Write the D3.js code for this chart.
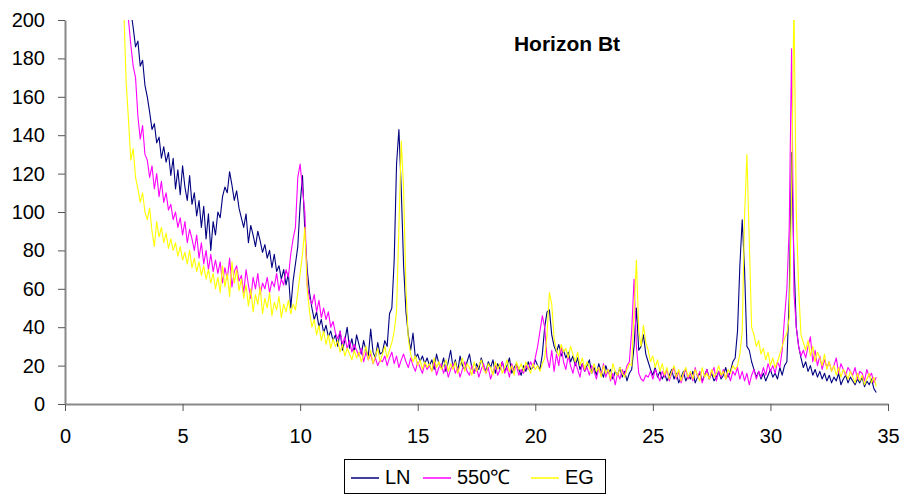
<!DOCTYPE html>
<html>
<head>
<meta charset="utf-8">
<script src="https://cdn.jsdelivr.net/npm/d3@7"></script>
<style>
  body { margin: 0; background: #fff; }
  svg { display: block; font-family: Arial, "Liberation Sans", sans-serif; }
</style>
</head>
<body>
<svg width="906" height="497"></svg>
<script>
// scan grid: 2theta from 2.5 to 34.5, step 0.1
const scanStart = 2.5, scanStep = 0.1, scanCount = 321;

// intensities, one row per degree
const seriesLN = [
  260, 240, 220, 205, 196, 186, 189, 176, 179, 166,
  160, 152, 143, 146, 136, 139, 128, 134, 126, 131,
  119, 128, 112, 122, 109, 124, 113, 106, 119, 104,
  110, 98, 106, 92, 103, 86, 99, 80, 95, 88,
  100, 97, 108, 113, 110, 121, 114, 106, 111, 102,
  97, 92, 99, 84, 93, 88, 82, 90, 85, 79,
  83, 76, 80, 71, 78, 69, 72, 65, 70, 62,
  68, 50, 64, 73, 82, 104, 119, 90, 70, 58,
  50, 44, 48, 40, 44, 37, 41, 35, 38, 33,
  36, 30, 38, 28, 33, 40, 29, 34, 27, 36,
  31, 26, 33, 28, 25, 39, 27, 24, 32, 26,
  27, 33, 30, 47, 50, 75, 125, 143, 112, 72,
  48, 36, 28, 37, 24, 26, 22, 25, 21, 24,
  20, 23, 18, 26, 21, 19, 24, 17, 22, 28,
  19, 23, 17, 25, 20, 18, 22, 26, 19, 16,
  21, 18, 24, 20, 17, 22, 19, 23, 16, 21,
  18, 22, 17, 20, 24, 16, 19, 21, 18, 15,
  20, 17, 22, 18, 19, 23, 20, 18, 26, 40,
  48, 49, 36, 30, 27, 31, 25, 28, 24, 27,
  22, 25, 20, 24, 18, 21, 17, 20, 23, 16,
  19, 15, 21, 17, 14, 20, 16, 18, 13, 17,
  15, 19, 14, 17, 12, 16, 18, 30, 50, 28,
  30, 36, 26, 22, 18, 15, 19, 14, 17, 13,
  16, 12, 15, 18, 13, 16, 11, 14, 17, 12,
  15, 13, 17, 11, 14, 16, 12, 15, 18, 13,
  16, 12, 14, 17, 13, 15, 19, 14, 17, 22,
  24, 38, 72, 96, 70, 30, 28, 22, 18, 14,
  17, 13, 16, 12, 15, 18, 14, 16, 13, 19,
  15, 20, 22, 55, 131, 75, 40, 30, 24, 19,
  22, 17, 20, 15, 18, 14, 17, 13, 16, 12,
  15, 11, 14, 12, 16, 10, 13, 15, 11, 14,
  12, 10, 13, 11, 14, 9, 12, 10, 13, 8,
  6
];

const series550 = [
  250, 225, 200, 187, 176, 170, 150, 138, 145, 130,
  127, 118, 124, 112, 120, 108, 116, 105, 110, 101,
  104, 96, 100, 92, 97, 88, 95, 84, 91, 86,
  80, 88, 76, 84, 73, 80, 70, 78, 69, 75,
  68, 74, 63, 71, 65, 76, 61, 69, 72, 64,
  67, 58, 70, 62, 55, 66, 60, 68, 57, 63,
  60, 66, 58, 64, 61, 68, 59, 65, 62, 70,
  66, 78, 86, 92, 118, 125, 112, 100, 62, 55,
  52, 57, 48, 54, 45, 50, 44, 48, 40, 43,
  37, 34, 38, 31, 35, 29, 33, 27, 31, 28,
  25, 29, 22, 27, 23, 26, 21, 24, 20, 23,
  22, 25, 20, 24, 27, 21, 25, 19, 23, 26,
  22, 19, 24, 20, 17, 22, 19, 16, 21, 18,
  20, 17, 22, 15, 19, 21, 16, 20, 14, 18,
  21, 16, 19, 14, 18, 22, 17, 15, 20, 16,
  19, 14, 18, 21, 16, 19, 13, 17, 20, 15,
  18, 22, 16, 19, 14, 21, 17, 20, 15, 18,
  16, 20, 18, 22, 19, 24, 30, 38, 46, 40,
  24, 19, 28, 17, 26, 20, 30, 22, 18, 25,
  20, 16, 22, 18, 14, 21, 17, 19, 15, 20,
  17, 13, 19, 15, 21, 14, 18, 12, 16, 10,
  16, 13, 18, 15, 20, 22, 38, 65, 30, 16,
  13, 12, 15, 14, 17, 13, 18, 15, 12, 17,
  14, 18, 12, 16, 19, 13, 17, 11, 15, 18,
  13, 16, 12, 19, 14, 17, 11, 15, 18, 13,
  16, 19, 12, 17, 14, 18, 13, 16, 12, 17,
  15, 19, 13, 17, 12, 16, 10, 15, 18, 13,
  17, 14, 19, 15, 21, 17, 20, 16, 22, 19,
  28, 45, 60, 92, 185, 58, 40, 30, 25, 28,
  24, 30, 35, 22, 28, 20, 25, 18, 23, 19,
  22, 17, 20, 24, 16, 21, 18, 15, 19, 17,
  15, 19, 13, 17, 16, 12, 18, 14, 16, 11,
  14
];

const seriesEG = [
  205, 168, 148, 127, 133, 118, 112, 105, 110, 100,
  96, 102, 90, 82, 95, 87, 92, 84, 89, 81,
  86, 80, 84, 77, 82, 75, 79, 73, 80, 71,
  76, 69, 74, 67, 72, 65, 70, 63, 68, 60,
  66, 58, 72, 61, 68, 56, 74, 63, 70, 59,
  65, 55, 62, 51, 60, 48, 57, 52, 61, 47,
  55, 50, 58, 46, 53, 49, 56, 45, 52, 48,
  54, 47, 52, 49, 58, 68, 78, 92, 60, 48,
  40, 44, 36, 41, 33, 38, 31, 36, 29, 34,
  30, 33, 27, 31, 25, 29, 26, 23, 28, 24,
  27, 22, 26, 30, 23, 28, 21, 25, 29, 22,
  26, 30, 24, 28, 32, 38, 48, 92, 137, 112,
  60, 34, 26, 22, 25, 20, 23, 18, 22, 19,
  21, 17, 24, 19, 22, 18, 20, 23, 17, 21,
  18, 22, 16, 20, 24, 17, 21, 19, 15, 22,
  17, 20, 23, 18, 16, 21, 19, 15, 22, 18,
  21, 16, 19, 23, 17, 20, 15, 22, 18, 21,
  17, 22, 19, 16, 21, 18, 20, 17, 21, 24,
  36, 58, 52, 34, 28, 25, 31, 27, 29, 24,
  30, 26, 22, 27, 20, 24, 18, 22, 19, 16,
  21, 17, 19, 14, 20, 16, 18, 13, 21, 17,
  15, 19, 16, 14, 18, 21, 20, 48, 75, 38,
  30, 41, 32, 28, 22, 25, 19, 23, 17, 21,
  15, 19, 13, 17, 20, 14, 18, 12, 16, 19,
  14, 17, 13, 18, 15, 12, 19, 14, 16, 13,
  18, 14, 16, 20, 15, 17, 13, 18, 16, 20,
  18, 20, 26, 38, 98, 130, 85, 40, 36, 30,
  33, 26, 29, 23, 27, 20, 24, 19, 22, 26,
  30, 34, 37, 45, 110, 210, 100, 60, 36, 32,
  28, 33, 25, 30, 22, 27, 24, 20, 26, 18,
  22, 17, 20, 15, 19, 14, 18, 16, 13, 17,
  14, 11, 16, 12, 15, 10, 13, 16, 11, 14,
  9
];

const seriesNames = ['LN', '550\u2103', 'EG'];
const seriesColors = ['#000080', '#ff00ff', '#ffff00'];
const xTicks = [0, 5, 10, 15, 20, 25, 30, 35];
const yTicks = [0, 20, 40, 60, 80, 100, 120, 140, 160, 180, 200];
const chartTitle = 'Horizon Bt';

(function (d3) {
    'use strict';

    const svg = d3.select('svg');
    const left = 65, right = 888, top = 20, bottom = 404;

    const x = d3.scaleLinear().domain([0, 35]).range([left, right]);
    const y = d3.scaleLinear().domain([0, 200]).range([bottom, top]);

    const twoTheta = d3.range(scanCount).map(i => scanStart + i * scanStep);

    svg.append('defs').append('clipPath')
        .attr('id', 'plot')
        .append('rect')
        .attr('x', left).attr('y', top)
        .attr('width', right - left).attr('height', bottom - top);

    const line = d3.line()
        .x((d, i) => x(twoTheta[i]))
        .y(d => y(d));

    const allSeries = [seriesLN, series550, seriesEG];

    svg.append('g')
        .attr('clip-path', 'url(#plot)')
        .selectAll('path')
        .data(allSeries)
        .enter().append('path')
        .attr('d', line)
        .attr('fill', 'none')
        .attr('stroke', (d, i) => seriesColors[i])
        .attr('stroke-width', 1.1)
        .attr('stroke-linejoin', 'round');

    // axes
    const xAxis = svg.append('g')
        .attr('transform', `translate(0,${bottom})`)
        .call(d3.axisBottom(x).tickValues(xTicks).tickSize(7).tickSizeOuter(0).tickPadding(18));

    const yAxis = svg.append('g')
        .attr('transform', `translate(${left},0)`)
        .call(d3.axisLeft(y).tickValues(yTicks).tickSize(7).tickSizeOuter(0).tickPadding(13));

    [xAxis, yAxis].forEach(ax => {
        ax.select('.domain').attr('stroke', '#888').attr('stroke-width', 2);
        ax.selectAll('.tick line').attr('stroke', '#555');
        ax.selectAll('.tick text')
            .attr('fill', '#000')
            .style('font-size', '20px')
            .style('font-family', 'Arial, "Liberation Sans", sans-serif');
    });

    svg.append('text')
        .attr('x', 567).attr('y', 51)
        .attr('text-anchor', 'middle')
        .style('font-size', '21px')
        .style('font-weight', 'bold')
        .text(chartTitle);

    // legend
    const legend = svg.append('g');
    legend.append('rect')
        .attr('x', 344.5).attr('y', 459.5)
        .attr('width', 261).attr('height', 34)
        .attr('fill', '#fff')
        .attr('stroke', '#000');

    const legendX = [351, 423, 531];
    const items = legend.selectAll('g.item')
        .data(seriesNames)
        .enter().append('g')
        .attr('class', 'item')
        .attr('transform', (d, i) => `translate(${legendX[i]},0)`);

    items.append('line')
        .attr('x1', 0).attr('x2', 28)
        .attr('y1', 478).attr('y2', 478)
        .attr('stroke', (d, i) => seriesColors[i])
        .attr('stroke-width', 1.5);

    items.append('text')
        .attr('x', 34).attr('y', 484)
        .style('font-size', '20px')
        .text(d => d);
}(d3));
</script>
</body>
</html>
